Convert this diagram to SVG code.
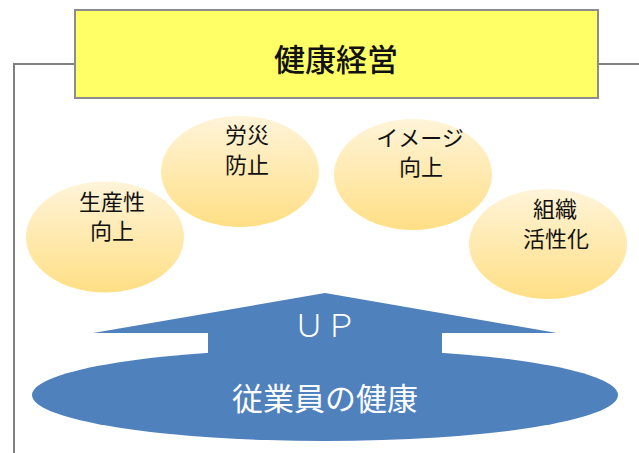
<svg xmlns="http://www.w3.org/2000/svg" width="639" height="453" viewBox="0 0 639 453">
<defs>
<linearGradient id="g" x1="0" y1="0" x2="0" y2="1">
<stop offset="0" stop-color="#FFF4D9"/>
<stop offset="1" stop-color="#FFDF85"/>
</linearGradient>
<style>
.conn{fill:none;stroke:#808080;stroke-width:2}
.bub{fill:url(#g)}
.t{font-family:"Noto Sans CJK JP","Noto Sans",sans-serif;text-anchor:middle;fill:#111}
.w{font-family:"Noto Sans CJK JP","Noto Sans",sans-serif;text-anchor:middle;fill:#fff}
</style>
</defs>
<rect width="639" height="453" fill="#fff"/>
<g id="connectors">
<polyline class="conn" points="75,64 14,64 14,453"/>
<line class="conn" x1="598" y1="64" x2="639" y2="64"/>
</g>
<g id="top">
<rect x="75" y="10" width="523" height="88" fill="#FFFF66" stroke="#8C8C8C" stroke-width="2"/>
<text class="t" x="336" y="71" font-size="31" font-weight="500" fill="#000">健康経営</text>
</g>
<g id="seisansei">
<ellipse class="bub" cx="105" cy="237" rx="79" ry="55.5"/>
<text class="t" x="112" y="210" font-size="22">生産性</text>
<text class="t" x="112" y="239" font-size="22">向上</text>
</g>
<g id="rousai">
<ellipse class="bub" cx="240" cy="171.5" rx="79" ry="55.5"/>
<text class="t" x="247" y="143" font-size="22">労災</text>
<text class="t" x="247" y="173" font-size="22">防止</text>
</g>
<g id="image">
<ellipse class="bub" cx="413" cy="174.5" rx="79" ry="55.5"/>
<text class="t" x="420" y="146" font-size="22">イメージ</text>
<text class="t" x="421" y="175" font-size="22">向上</text>
</g>
<g id="soshiki">
<ellipse class="bub" cx="548" cy="244" rx="79" ry="55"/>
<text class="t" x="555" y="217" font-size="22">組織</text>
<text class="t" x="556" y="247" font-size="22">活性化</text>
</g>
<g id="health">
<ellipse cx="325" cy="395" rx="293" ry="46" fill="#4F81BD"/>
<polygon points="325,293 557,333 442,333 442,360 208,360 208,333 93,333" fill="#4F81BD"/>
<text class="w" x="325" y="337" font-size="32" font-weight="300">ＵＰ</text>
<text class="w" x="325" y="410" font-size="31">従業員の健康</text>
</g>
</svg>
